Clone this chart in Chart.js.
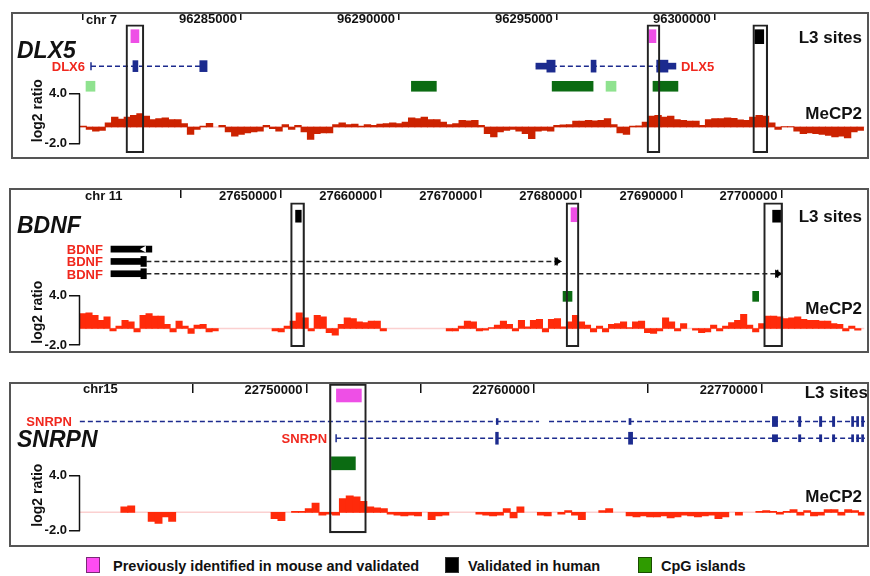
<!DOCTYPE html>
<html>
<head>
<meta charset="utf-8">
<title>L3 sites and MeCP2 binding</title>
<script src="https://cdn.jsdelivr.net/npm/chart.js@4.4.1/dist/chart.umd.min.js"></script>
<style>
  html, body { margin: 0; padding: 0; background: #fff; }
  body { position: relative; width: 870px; height: 576px; overflow: hidden; font-family: "Liberation Sans", Arial, sans-serif; }
  canvas { position: absolute; left: 0; }
  .frame { position: absolute; border: 2px solid #555; box-sizing: border-box; pointer-events: none; }
  .key { position: absolute; top: 557px; width: 14px; height: 16px; box-sizing: border-box; border: 1px solid #333; }
  .key-label { position: absolute; top: 557px; line-height: 18px; font-size: 14.5px; font-weight: bold; color: #111; white-space: nowrap; }
</style>
</head>
<body>
<canvas id="dlx5" width="870" height="147" style="top:12px"></canvas>
<canvas id="bdnf" width="870" height="165" style="top:188px"></canvas>
<canvas id="snrpn" width="870" height="165" style="top:382px"></canvas>
<div class="frame" style="left:11px;top:12px;width:858px;height:147px"></div>
<div class="frame" style="left:9px;top:188px;width:860px;height:165px"></div>
<div class="frame" style="left:9px;top:382px;width:860px;height:165px"></div>

<div class="key" style="left:86px;background:#ff4cf2;border-color:#7a2a76"></div>
<div class="key-label" style="left:113px">Previously identified in mouse and validated</div>
<div class="key" style="left:445px;background:#000"></div>
<div class="key-label" style="left:468px">Validated in human</div>
<div class="key" style="left:638px;background:#2f9b00;border-color:#1a4d00"></div>
<div class="key-label" style="left:661px">CpG islands</div>

<script>
'use strict';

// ── DLX5 locus, chr 7 ────────────────────────────────────────────────────────
const DLX5_TICKS = [96280000, 96285000, 96290000, 96295000, 96300000];
const DLX5_TICK_LABELS = ['', '96285000', '96290000', '96295000', '96300000'];
const DLX5_BIN_START = 96279905;
const DLX5_BIN_SIZE = 200;
const DLX5_MECP2 = [
  0.1, -0.3, -0.5, -0.4, 0.5, 1.2, 0.95, 1.2, 1.4, 1.6,
  1.3, 0.9, 1.0, 1.1, 0.9, 0.9, 0.4, -0.9, -0.3, 0.1,
  0.45, null, 0.2, -0.6, -1.1, -0.9, -0.7, -0.6, -0.5, 0.2,
  -0.2, -0.5, 0.3, -0.3, 0.2, -0.6, -1.5, -0.8, -0.7, -0.7,
  0.3, 0.5, 0.3, 0.35, 0.1, 0.3, 0.2, 0.35, 0.4, 0.5,
  0.4, 0.6, 1.1, 1.0, 1.2, 0.9, 0.9, 0.6, 0.3, 0.4,
  0.8, 0.75, 0.8, 0.2, -0.8, -1.2, -0.6, -0.4, -0.3, -0.5,
  -0.8, -1.4, -0.5, -0.4, -0.5, 0.2, 0.25, 0.3, 0.7, 0.7,
  0.8, 0.75, 0.8, 1.0, 0.3, -0.7, -0.9, 0.1, 0.15, 0.6,
  1.3, 1.4, 1.2, 1.3, 0.9, 0.8, 0.7, 0.7, 0.2, 0.9,
  1.0, 1.0, 1.1, 1.05, 0.85, 0.8, 1.2, 1.4, 1.3, 0.5,
  -0.3, 0.05, 0.05, -0.5, -0.8, -0.7, -0.8, -0.9, -1.0, -1.2,
  -1.1, -1.3, -0.6, -0.4,
];
const DLX5_MOUSE_SITES = [[96281517, 96281770], [96297917, 96298138]];
const DLX5_HUMAN_SITES = [[96301267, 96301551]];
const DLX5_BOXES = [[96281359, 96281928], [96297854, 96298265], [96301204, 96301678]];
const DLX5_CPG = [[96290396, 96291186], [96294852, 96296148], [96298044, 96298834]];
const DLX5_CPG_WEAK = [[96280095, 96280379], [96296558, 96296874]];
const DLX6_SPAN = [96280253, 96283918];
const DLX6_EXONS = [[96281580, 96281738], [96283697, 96283928]];
const DLX5_GENE_SPAN = [96294337, 96298770];
const DLX5_UTRS = [[96294337, 96294684], [96298518, 96298770]];
const DLX5_EXONS = [[96294684, 96294946], [96296084, 96296242], [96298161, 96298518]];

// ── BDNF locus, chr 11 ───────────────────────────────────────────────────────
const BDNF_TICKS = [27640000, 27650000, 27660000, 27670000, 27680000, 27690000, 27700000];
const BDNF_TICK_LABELS = ['', '27650000', '27660000', '27670000', '27680000', '27690000', '27700000'];
const BDNF_BIN_START = 27629930;
const BDNF_BIN_SIZE = 600;
const BDNF_MECP2 = [
  1.8, 1.9, 1.6, 1.0, 1.4, -0.3, 0.3, 1.0, 0.8, -0.4,
  1.6, 1.8, 1.5, 1.5, 0.5, -0.4, 0.9, 0.3, -0.6, 0.4,
  0.5, -0.4, -0.3, null, null, null, null, null, null, null,
  null, null, -0.3, -0.4, 0.3, 0.9, 1.9, 1.3, -0.3, 1.6,
  1.4, -0.5, -0.8, 0.5, 1.3, 1.2, 0.8, 0.7, 0.9, 0.9,
  -0.3, null, null, null, null, null, null, null, null, null,
  null, -0.3, -0.3, 0.3, 0.9, 0.8, -0.3, -0.2, 0.1, 0.4,
  0.9, 0.5, -0.3, 1.0, 0.2, 1.0, 1.1, -0.4, 1.1, 1.2,
  0.2, 0.8, 1.6, 0.8, 0.4, -0.4, 0.3, -0.4, 0.5, 0.6,
  0.8, 0.1, 0.8, 0.9, -0.5, -0.6, -0.3, 1.3, 0.8, -0.3,
  0.6, null, -0.2, -0.5, -0.4, 0.4, -0.3, 0.3, 0.7, 1.0,
  1.7, 0.4, -0.4, 0.6, 1.5, 1.5, 1.4, 1.2, 1.3, 1.4,
  1.1, 1.0, 1.0, 0.9, 0.9, 0.6, 0.5, -0.3, 0.3, -0.2,
];
const BDNF_MOUSE_SITES = [[27678983, 27679581]];
const BDNF_HUMAN_SITES = [[27651466, 27652034], [27699122, 27699920]];
const BDNF_BOXES = [[27650967, 27652363], [27678484, 27679780], [27698225, 27700119]];
const BDNF_CPG = [[27678185, 27679082], [27697128, 27697727]];
const BDNF_BLOCKS = [[27633021, 27637109], [27633021, 27636012], [27633021, 27636012]];
const BDNF_EXONS = [[27636012, 27636560], [27636012, 27636560]];
const BDNF_INTRONS = [[27636560, 27677587], [27636560, 27699621]];
const BDNF_STRAND_MARK = 27636311;

// ── SNRPN locus, chr15 ───────────────────────────────────────────────────────
const SNRPN_TICKS = [22745000, 22750000, 22755000, 22760000, 22765000, 22770000];
const SNRPN_TICK_LABELS = ['', '22750000', '', '22760000', '', '22770000'];
const SNRPN_BIN_START = 22740050;
const SNRPN_BIN_SIZE = 300;
const SNRPN_MECP2 = [
  null, null, null, null, null, null, 0.6, 0.7, null, null,
  -1.0, -1.2, -0.5, -1.0, null, null, null, null, null, null,
  null, null, null, null, null, null, null, null, -0.7, -0.9,
  null, 0.1, 0.1, 0.4, 1.0, -0.3, -0.2, -0.3, 1.5, 1.8,
  1.7, 1.2, 0.6, 0.5, 0.4, -0.2, -0.3, -0.4, -0.3, -0.4,
  null, -0.8, -0.4, -0.3, null, null, null, null, -0.2, -0.3,
  -0.4, -0.3, 0.4, -0.6, 0.6, null, null, -0.3, -0.4, null,
  -0.2, 0.2, -0.3, -0.8, null, null, 0.2, 0.4, null, null,
  -0.4, -0.5, -0.4, -0.5, -0.5, -0.4, -0.6, -0.5, -0.3, -0.4,
  -0.5, -0.4, -0.3, -0.7, -0.5, null, -0.3, null, null, 0.1,
  0.2, 0.1, -0.2, 0.1, 0.3, -0.3, 0.2, -0.4, -0.3, 0.3,
  0.3, -0.3, 0.3, 0.2, -0.3,
];
const SNRPN_MOUSE_SITES = [[22751316, 22752412]];
const SNRPN_BOXES = [[22751009, 22752632]];
const SNRPN_CPG = [[22751097, 22752149]];
const SNRPN_LONG_SPANS = [[22740044, 22760219], [22760658, 22774540]];
const SNRPN_SHORT_SPAN = [22751303, 22774540];
const SNRPN_LONG_MINOR_EXONS = [[22758340, 22758420], [22764170, 22764260]];
const SNRPN_SHORT_MAJOR_EXONS = [[22758310, 22758430], [22764150, 22764330]];
const SNRPN_SHARED_EXONS = [
  [22770470, 22770700], [22771620, 22771720], [22772540, 22772640], [22773110, 22773210],
  [22773950, 22774040], [22774170, 22774260], [22774390, 22774480],
];

// ── styles ───────────────────────────────────────────────────────────────────
const FAMILY = '"Liberation Sans", Arial, sans-serif';
const INK = '#111';
const PINK = '#ee4fe6';
const BLACK = '#000';
const BLUE = '#1c2b8e';
const GREEN = '#0b6b12';
const LIGHT_GREEN = '#8fe28f';
const RED_TEXT = '#f0281e';
const BASELINE = '#fbd0d0';
const AREA_LEFT = 80;   // y axis width
const PAD_RIGHT = 4;
const CANVAS_W = 870;

Chart.defaults.font.family = FAMILY;

// ── dataset helpers (rows scale = page-pixel offset below the chart area top) ──
function rects(list, y, h, color, extra) {
  return Object.assign({
    type: 'bar', indexAxis: 'y', xAxisID: 'x', yAxisID: 'rows', grouped: false, clip: false,
    barThickness: h, borderWidth: 0, borderSkipped: false, backgroundColor: color,
    data: list.map(([s, e]) => ({ x: [s, e], y })),
  }, extra || {});
}

function outlines(list, y, h) {
  return rects(list, y, h, 'rgba(0,0,0,0)', { borderColor: '#222', borderWidth: 1.5 });
}

function paths(list, y, color, dash) {
  return list.map(([s, e]) => ({
    type: 'line', xAxisID: 'x', yAxisID: 'rows', clip: false,
    borderColor: color, borderWidth: 1.5, borderDash: dash || [], pointRadius: 0,
    data: [{ x: s, y }, { x: e, y }],
  }));
}

function marks(xs, y, style, rotation, radius, color) {
  return {
    type: 'line', xAxisID: 'x', yAxisID: 'rows', clip: false, showLine: false,
    pointStyle: style, pointRotation: rotation, pointRadius: radius,
    pointBorderColor: color, pointBackgroundColor: color, pointBorderWidth: 1.5,
    data: xs.map(v => ({ x: v, y })),
  };
}

const PANELS = [
  {
    id: 'dlx5', T: 12, H: 147, padB: 3, axisH: 8, tickLen: 7, labelY: 19.8,
    xMin: 96279905, xMax: 96304740, ticks: DLX5_TICKS, tickLabels: DLX5_TICK_LABELS,
    tick4: 95, tickM2: 146,
    chr: 'chr 7', chrX: 86, chrY: 20, name: 'DLX5', nameY: 52,
    l3Y: 38.3, l3Right: 862, mecpY: 114,
    signal: { start: DLX5_BIN_START, size: DLX5_BIN_SIZE, values: DLX5_MECP2, color: '#cc2200' },
    tracks: r => [
      outlines(DLX5_BOXES, r(90), 128),
      rects(DLX5_MOUSE_SITES, r(36.5), 13, PINK),
      rects(DLX5_HUMAN_SITES, r(37), 14, BLACK),
      rects(DLX6_EXONS, r(67), 11, BLUE),
      rects(DLX5_EXONS, r(67), 12, BLUE),
      rects(DLX5_UTRS, r(67), 6, BLUE),
      marks([DLX6_SPAN[0]], r(67), 'line', 90, 4, BLUE),
      ...paths([DLX6_SPAN, DLX5_GENE_SPAN], r(67), BLUE, [5, 3]),
      rects(DLX5_CPG, r(87.5), 10, GREEN),
      rects(DLX5_CPG_WEAK, r(87.5), 10, LIGHT_GREEN),
    ],
    labels: x => [
      { text: 'DLX6', x: x(DLX6_SPAN[0]) - 6, y: 67, align: 'right' },
      { text: 'DLX5', x: x(DLX5_GENE_SPAN[1]) + 5, y: 67, align: 'left' },
    ],
  },
  {
    id: 'bdnf', T: 188, H: 165, padB: 3, axisH: 10, tickLen: 10, labelY: 196,
    xMin: 27629930, xMax: 27708300, ticks: BDNF_TICKS, tickLabels: BDNF_TICK_LABELS,
    tick4: 297, tickM2: 347.5,
    chr: 'chr 11', chrX: 85, chrY: 196, name: 'BDNF', nameY: 227,
    l3Y: 217, l3Right: 862, mecpY: 309,
    signal: { start: BDNF_BIN_START, size: BDNF_BIN_SIZE, values: BDNF_MECP2, color: '#ff2a0a' },
    tracks: r => [
      outlines(BDNF_BOXES, r(276), 144),
      rects(BDNF_MOUSE_SITES, r(215), 14, PINK),
      rects(BDNF_HUMAN_SITES, r(216.5), 12, BLACK),
      marks([BDNF_STRAND_MARK], r(250), 'triangle', -90, 2.5, '#fff'),
      rects([BDNF_BLOCKS[0]], r(250), 6, BLACK),
      rects([BDNF_BLOCKS[1]], r(262.5), 6, BLACK),
      rects([BDNF_BLOCKS[2]], r(275), 6, BLACK),
      rects([BDNF_EXONS[0]], r(262.5), 10, BLACK),
      rects([BDNF_EXONS[1]], r(275), 10, BLACK),
      marks([BDNF_INTRONS[0][1]], r(262.5), 'triangle', 90, 3.5, BLACK),
      marks([BDNF_INTRONS[1][1]], r(275), 'triangle', 90, 3.5, BLACK),
      marks([BDNF_INTRONS[0][1]], r(262.5), 'line', 90, 4, BLACK),
      marks([BDNF_INTRONS[1][1]], r(275), 'line', 90, 4, BLACK),
      ...paths([BDNF_INTRONS[0]], r(262.5), '#222', [5, 3]),
      ...paths([BDNF_INTRONS[1]], r(275), '#222', [5, 3]),
      rects(BDNF_CPG, r(298), 10, GREEN),
    ],
    labels: x => [
      { text: 'BDNF', x: x(BDNF_BLOCKS[0][0]) - 8, y: 250, align: 'right' },
      { text: 'BDNF', x: x(BDNF_BLOCKS[1][0]) - 8, y: 262.5, align: 'right' },
      { text: 'BDNF', x: x(BDNF_BLOCKS[2][0]) - 8, y: 275, align: 'right' },
    ],
  },
  {
    id: 'snrpn', T: 382, H: 165, padB: 3, axisH: 11, tickLen: 11, labelY: 390,
    xMin: 22740050, xMax: 22774518, ticks: SNRPN_TICKS, tickLabels: SNRPN_TICK_LABELS,
    tick4: 477, tickM2: 533,
    chr: 'chr15', chrX: 83, chrY: 389, name: 'SNRPN', nameY: 441,
    l3Y: 393, l3Right: 868, mecpY: 497.5,
    signal: { start: SNRPN_BIN_START, size: SNRPN_BIN_SIZE, values: SNRPN_MECP2, color: '#ff2a0a' },
    tracks: r => [
      outlines(SNRPN_BOXES, r(459.5), 149),
      rects(SNRPN_MOUSE_SITES, r(395.5), 13, PINK),
      rects(SNRPN_LONG_MINOR_EXONS, r(422), 6, BLUE),
      rects(SNRPN_SHARED_EXONS, r(422), 10, BLUE),
      rects(SNRPN_SHORT_MAJOR_EXONS, r(439), 12, BLUE),
      rects(SNRPN_SHARED_EXONS, r(439), 7, BLUE),
      marks([SNRPN_SHORT_SPAN[0]], r(439), 'line', 90, 4, BLUE),
      ...paths(SNRPN_LONG_SPANS, r(422), BLUE, [5, 3]),
      ...paths([SNRPN_SHORT_SPAN], r(439), BLUE, [5, 3]),
      rects(SNRPN_CPG, r(464.5), 13, GREEN),
    ],
    labels: x => [
      { text: 'SNRPN', x: x(SNRPN_LONG_SPANS[0][0]) - 8, y: 422, align: 'right' },
      { text: 'SNRPN', x: x(SNRPN_SHORT_SPAN[0]) - 9, y: 439, align: 'right' },
    ],
  },
];

// ── text and the log2 bracket, drawn over each track panel ──────────────────
function decor(p) {
  return {
    id: 'decor',
    afterDraw(chart) {
      const { ctx } = chart;
      const { x, y } = chart.scales;
      const cy = v => v - p.T;
      const y4 = y.getPixelForValue(4);
      const y2 = y.getPixelForValue(-2);
      ctx.save();
      ctx.strokeStyle = INK;
      ctx.lineWidth = 1.5;
      ctx.beginPath();
      ctx.moveTo(y.right - 0.5, y4);
      ctx.lineTo(y.right - 0.5, y2);
      ctx.stroke();

      ctx.fillStyle = INK;
      ctx.textBaseline = 'middle';
      ctx.save();
      ctx.translate(38, (y4 + y2) / 2 - 8);
      ctx.rotate(-Math.PI / 2);
      ctx.textAlign = 'center';
      ctx.font = 'bold 14px ' + FAMILY;
      ctx.fillText('log2 ratio', 0, 0);
      ctx.restore();

      ctx.textAlign = 'left';
      ctx.font = 'italic bold 23px ' + FAMILY;
      ctx.fillText(p.name, 17, cy(p.nameY));
      ctx.font = 'bold 13px ' + FAMILY;
      ctx.fillText(p.chr, p.chrX, cy(p.chrY));
      ctx.textAlign = 'right';
      ctx.font = 'bold 17px ' + FAMILY;
      ctx.fillText('L3 sites', p.l3Right, cy(p.l3Y));
      ctx.fillText('MeCP2', 862, cy(p.mecpY));

      ctx.fillStyle = RED_TEXT;
      ctx.font = 'bold 13px ' + FAMILY;
      p.labels(v => x.getPixelForValue(v)).forEach(l => {
        ctx.textAlign = l.align;
        ctx.fillText(l.text, l.x, cy(l.y));
      });
      ctx.restore();
    },
  };
}

function buildPanel(p) {
  const areaTop = p.axisH;
  const areaBottom = p.H - p.padB;
  const ppu = (p.tickM2 - p.tick4) / 6;
  const yMax = 4 + (p.tick4 - p.T - areaTop) / ppu;
  const yMin = -2 - (areaBottom - (p.tickM2 - p.T)) / ppu;
  const row = pageY => pageY - p.T - areaTop;
  const tickFont = { family: FAMILY, size: 13, weight: 'bold' };
  // one MeCP2 bin expressed in pixels, so neighbouring bins touch
  const binPx = p.signal.size * (CANVAS_W - PAD_RIGHT - AREA_LEFT) / (p.xMax - p.xMin);

  const datasets = [
    ...p.tracks(row),
    {
      type: 'bar', xAxisID: 'xb', yAxisID: 'y', grouped: false, barThickness: binPx + 0.4,
      data: p.signal.values.map((v, i) => ({ x: p.signal.start + p.signal.size * (i + 0.5), y: v })),
      backgroundColor: p.signal.color, borderWidth: 0,
    },
    {
      type: 'line', xAxisID: 'x', yAxisID: 'y', borderColor: BASELINE, borderWidth: 1.5, pointRadius: 0,
      data: [{ x: p.xMin, y: 0 }, { x: p.xMax, y: 0 }],
    },
  ];

  return new Chart(document.getElementById(p.id), {
    type: 'bar',
    data: { datasets },
    options: {
      responsive: false,
      animation: false,
      devicePixelRatio: 1,
      events: [],
      layout: { padding: { left: 0, right: PAD_RIGHT, top: 0, bottom: p.padB } },
      plugins: { legend: { display: false }, tooltip: { enabled: false } },
      scales: {
        x: {
          type: 'linear', position: 'top', min: p.xMin, max: p.xMax, offset: false,
          afterBuildTicks: s => { s.ticks = p.ticks.map(v => ({ value: v })); },
          afterFit: s => { s.height = p.axisH; s.paddingLeft = 0; s.paddingRight = 0; },
          ticks: {
            autoSkip: false, maxRotation: 0, minRotation: 0, align: 'end', mirror: true,
            labelOffset: -4, padding: (p.labelY - p.T) - p.axisH - 13 * 1.2 / 2,
            font: tickFont, color: INK, callback: (v, i) => p.tickLabels[i],
          },
          grid: { drawOnChartArea: false, drawTicks: true, tickLength: p.tickLen, color: INK, lineWidth: 1.5, offset: false },
          border: { display: false },
        },
        // hidden twin of x for the MeCP2 bins
        xb: {
          type: 'linear', display: false, min: p.xMin, max: p.xMax, offset: false, grid: { offset: false },
          afterBuildTicks: s => { s.ticks = []; },
        },
        y: {
          type: 'linear', position: 'left', min: yMin, max: yMax, offset: false,
          afterBuildTicks: s => { s.ticks = [{ value: -2 }, { value: 4 }]; },
          afterFit: s => { s.width = AREA_LEFT; s.paddingTop = 0; s.paddingBottom = 0; },
          ticks: { padding: 2, font: tickFont, color: INK, callback: v => v.toFixed(1) },
          grid: { drawOnChartArea: false, drawTicks: true, tickLength: 11, color: INK, lineWidth: 1.5 },
          border: { display: false },
        },
        rows: {
          type: 'linear', axis: 'y', display: false, reverse: true, offset: false,
          min: 0, max: areaBottom - areaTop, grid: { offset: false },
        },
      },
    },
    plugins: [decor(p)],
  });
}

PANELS.forEach(buildPanel);
</script>
</body>
</html>
